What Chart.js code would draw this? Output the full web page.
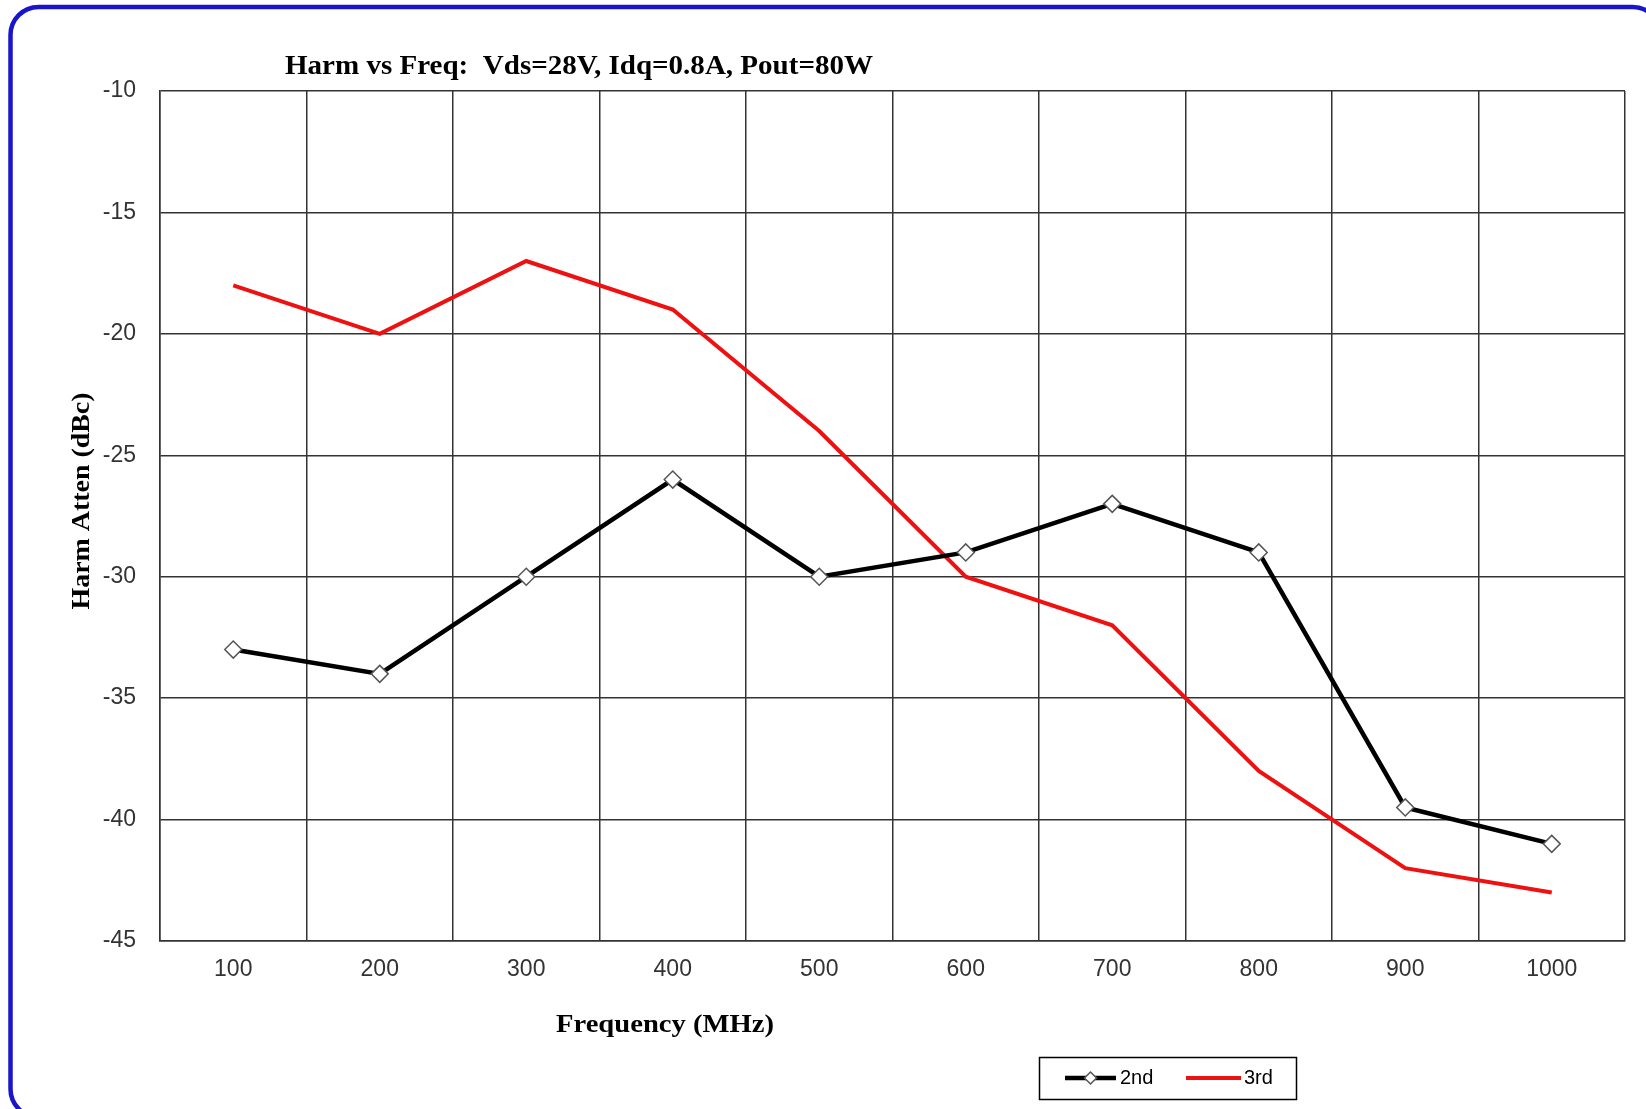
<!DOCTYPE html>
<html>
<head>
<meta charset="utf-8">
<script src="https://cdn.jsdelivr.net/npm/chart.js@4.4.0/dist/chart.umd.min.js"></script>
<style>
  html, body { margin: 0; padding: 0; background: #ffffff; }
  canvas { display: block; }
</style>
</head>
<body>
<canvas id="harmChart" width="1646" height="1109"></canvas>
<script>
const ctx = document.getElementById('harmChart');

//Prepare data
var frequencies = ['100', '200', '300', '400', '500', '600', '700', '800', '900', '1000'];
var harm2nd = [-33, -34, -30, -26, -30, -29, -27, -29, -39.5, -41];
var harm3rd = [-18, -20, -17, -19, -24, -30, -32, -38, -42, -43];
var yMin = -45;
var yMax = -10;
var yStep = 5;

var chartTitle = 'Harm vs Freq:  Vds=28V, Idq=0.8A, Pout=80W';
var xTitle = 'Frequency (MHz)';
var yTitle = 'Harm Atten (dBc)';

var gridColor = '#333333';

//Text stretched sideways to the width the old chart used
function stretchedText(c, text, cx, cy, width, angle) {
    const w = c.measureText(text).width;
    c.save();
    c.translate(cx, cy);
    c.rotate(angle);
    c.scale(width / w, 1);
    c.textAlign = 'center';
    c.textBaseline = 'middle';
    c.fillText(text, 0, 0);
    c.restore();
}

//Frame, titles and legend drawn on top of the chart
const decorations = {
    id: 'decorations',
    beforeDraw(chart) {
        const c = chart.ctx;
        c.save();
        c.fillStyle = '#ffffff';
        c.fillRect(0, 0, chart.width, chart.height);
        c.restore();
    },
    afterDraw(chart) {
        const c = chart.ctx;
        c.save();

        // blue rounded frame
        c.strokeStyle = '#1a14cc';
        c.lineWidth = 4.5;
        c.beginPath();
        c.roundRect(10.5, 7, 1650, 1110, 28);
        c.stroke();

        // titles
        c.fillStyle = '#000000';
        c.font = 'bold 27px "Liberation Serif"';
        stretchedText(c, chartTitle, 579, 67, 588, 0);
        c.font = 'bold 26px "Liberation Serif"';
        stretchedText(c, xTitle, 665, 1025, 218, 0);
        stretchedText(c, yTitle, 82, 501, 217, -Math.PI / 2);

        // legend
        c.strokeStyle = '#000000';
        c.lineWidth = 1.5;
        c.strokeRect(1039.5, 1057.5, 257, 42);
        const items = [
            {ds: chart.data.datasets[0], x0: 1065, x1: 1116, tx: 1120},
            {ds: chart.data.datasets[1], x0: 1186, x1: 1241, tx: 1244}
        ];
        const ly = 1078;
        items.forEach(function (it) {
            c.strokeStyle = it.ds.borderColor;
            c.lineWidth = it.ds.borderWidth;
            c.beginPath();
            c.moveTo(it.x0, ly);
            c.lineTo(it.x1, ly);
            c.stroke();
            if (it.ds.pointRadius > 0) {
                const r = 6, cx = (it.x0 + it.x1) / 2;
                c.fillStyle = it.ds.pointBackgroundColor;
                c.strokeStyle = it.ds.pointBorderColor;
                c.lineWidth = it.ds.pointBorderWidth;
                c.beginPath();
                c.moveTo(cx, ly - r);
                c.lineTo(cx + r, ly);
                c.lineTo(cx, ly + r);
                c.lineTo(cx - r, ly);
                c.closePath();
                c.fill();
                c.stroke();
            }
            c.fillStyle = '#000000';
            c.font = '20px "Liberation Sans"';
            c.textAlign = 'left';
            c.textBaseline = 'middle';
            c.fillText(it.ds.label, it.tx, ly);
        });

        c.restore();
    }
};

//Create chart
new Chart(ctx, {
    type: 'line',
    data: {
        labels: frequencies,
        datasets: [
            {
                label: '2nd',
                data: harm2nd,
                borderColor: '#000000',
                borderWidth: 4.5,
                pointStyle: 'rectRot',
                pointRadius: 8.5,
                pointBackgroundColor: '#ffffff',
                pointBorderColor: '#555555',
                pointBorderWidth: 1.5,
                tension: 0,
                order: 1
            },
            {
                label: '3rd',
                data: harm3rd,
                borderColor: '#ee1111',
                borderWidth: 4,
                pointRadius: 0,
                tension: 0,
                order: 2
            }
        ]
    },
    options: {
        responsive: false,
        animation: false,
        layout: {
            padding: {left: 0, top: 91, right: 21, bottom: 0}
        },
        plugins: {
            legend: {display: false},
            title: {display: false},
            tooltip: {enabled: false}
        },
        scales: {
            x: {
                type: 'category',
                offset: true,
                grid: {
                    offset: true,
                    color: gridColor,
                    lineWidth: 1.5,
                    drawTicks: false
                },
                border: {color: gridColor, width: 1.5},
                ticks: {
                    padding: 15,
                    color: '#333333',
                    font: {family: '"Liberation Sans"', size: 23}
                },
                afterFit(scale) { scale.height = 168; }
            },
            y: {
                min: yMin,
                max: yMax,
                grid: {
                    color: gridColor,
                    lineWidth: 1.5,
                    drawTicks: false
                },
                border: {color: gridColor, width: 1.5},
                ticks: {
                    stepSize: yStep,
                    padding: 24,
                    color: '#333333',
                    font: {family: '"Liberation Sans"', size: 23}
                },
                afterFit(scale) { scale.width = 160; }
            }
        }
    },
    plugins: [decorations]
});
</script>
</body>
</html>
